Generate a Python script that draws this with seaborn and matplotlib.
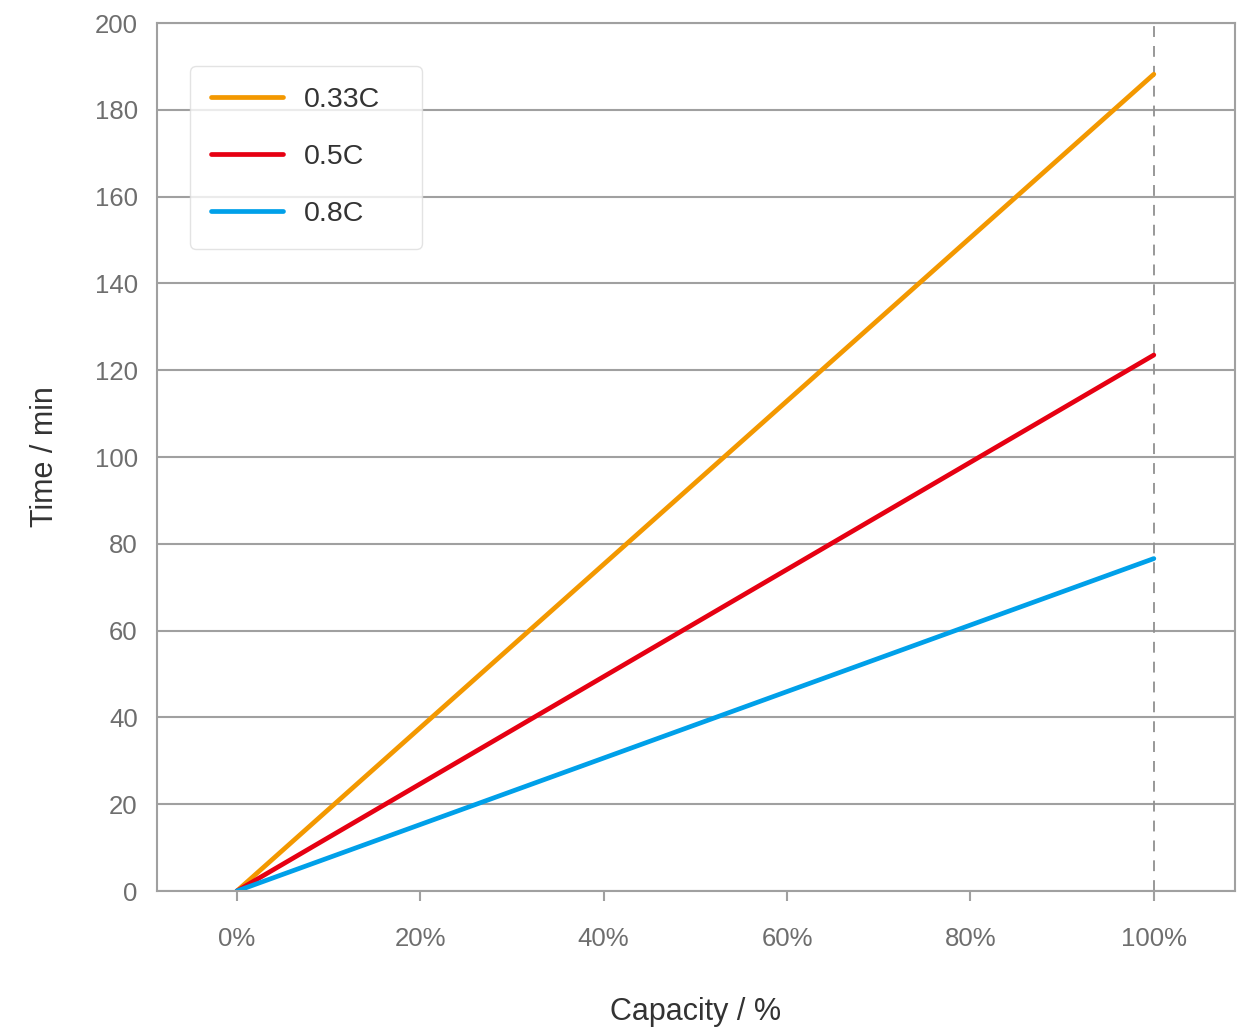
import matplotlib
matplotlib.use("Agg")
import matplotlib.pyplot as plt
import seaborn as sns
import pandas as pd
import numpy as np

# capacity (%) and charge time (min) per C-rate
capacity = [0, 100]
time_033c = [0, 188.2]
time_05c = [0, 123.5]
time_08c = [0, 76.6]
series_names = ['0.33C', '0.5C', '0.8C']
series_colors = ['#F39800', '#E60012', '#00A0E9']

x_ticks = [0, 20, 40, 60, 80, 100]
x_tick_labels = ['0%', '20%', '40%', '60%', '80%', '100%']
y_ticks = [0, 20, 40, 60, 80, 100, 120, 140, 160, 180, 200]

df = pd.DataFrame({
    'capacity': capacity * 3,
    'time': time_033c + time_05c + time_08c,
    'rate': [n for n in series_names for _ in capacity],
})

sns.set_theme(style='white')
plt.rcParams['font.family'] = ['Liberation Sans', 'DejaVu Sans']

fig = plt.figure(figsize=(12.37, 10.27), dpi=100)
ax = fig.add_axes([0.127, 0.1324, 0.871, 0.8452])

# grid lines first so the series sit on top
ax.set_axisbelow(True)
ax.yaxis.grid(True, color='#a0a0a0', linewidth=1.5)
ax.axvline(100, color='#909090', linestyle=(0, (6, 5)), linewidth=1.3, zorder=1)

sns.lineplot(data=df, x='capacity', y='time', hue='rate', palette=series_colors,
             hue_order=series_names, linewidth=3.4, ax=ax, solid_capstyle='round')

ax.set_xlim(-8.7, 108.8)
ax.set_ylim(0, 200)
ax.set_xticks(x_ticks)
ax.set_xticklabels(x_tick_labels)
ax.set_yticks(y_ticks)

for side in ['left', 'right', 'top', 'bottom']:
    ax.spines[side].set_color('#a0a0a0')
    ax.spines[side].set_linewidth(1.5)

ax.tick_params(axis='x', direction='out', length=7, width=1.5, color='#a0a0a0',
               pad=19, labelsize=18.5, labelcolor='#6e6e6e', bottom=True)
ax.tick_params(axis='y', length=0, pad=14, labelsize=18.5, labelcolor='#6e6e6e')

ax.set_xlabel('Capacity / %', fontsize=22, color='#333333', labelpad=33)
ax.set_ylabel('Time / min', fontsize=22, color='#333333', labelpad=25)

# legend box stretched to the reference width
leg = ax.legend(loc='upper left', bbox_to_anchor=(0.0306, 0.0, 0.2152, 0.9505),
                mode='expand', fontsize=20.5,
                frameon=True, fancybox=True, handlelength=2.5, handletextpad=0.75,
                labelspacing=1.09, borderpad=0.75, borderaxespad=0)
leg.get_frame().set_edgecolor('#dddddd')
leg.get_frame().set_linewidth(1.0)
for t in leg.get_texts():
    t.set_color('#333333')
for h in leg.get_lines():
    h.set_linewidth(3.4)
    h.set_solid_capstyle('round')

fig.savefig('out.png', dpi=100)
